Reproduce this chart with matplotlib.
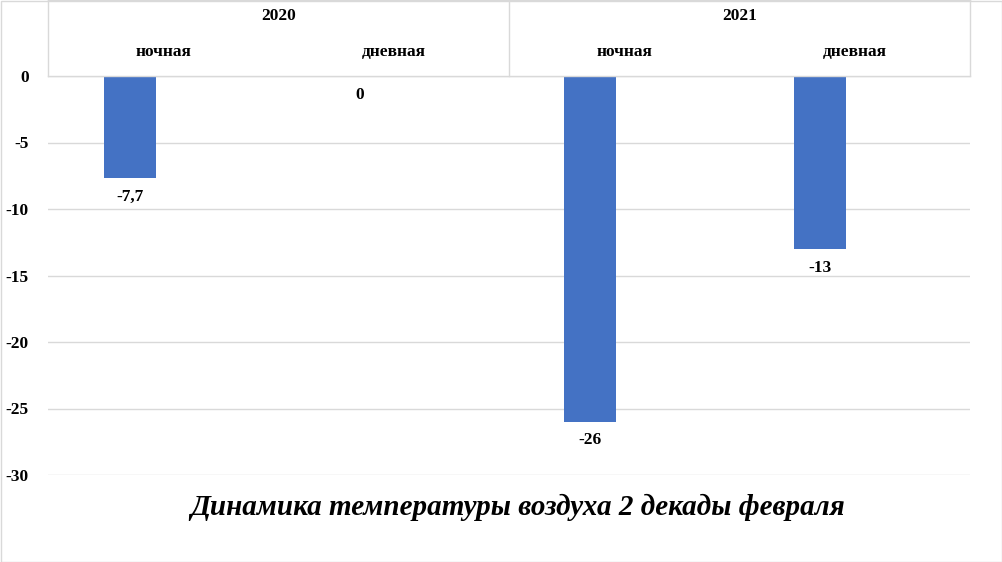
import matplotlib
matplotlib.use("Agg")
import matplotlib.pyplot as plt
from matplotlib.lines import Line2D
from matplotlib.patches import Rectangle

years = ["2020", "2021"]
periods = ["ночная", "дневная", "ночная", "дневная"]
values = [-7.7, 0, -26, -13]
labels = ["-7,7", "0", "-26", "-13"]
title = "Динамика температуры воздуха 2 декады февраля"

plt.rcParams['font.family'] = ['Liberation Serif', 'DejaVu Serif']
W, H = 1002, 562
fig = plt.figure(figsize=(W/100, H/100), dpi=100)
L, R, T, B = 48, 970, 76, 475
ax = fig.add_axes([L/W, 1-B/H, (R-L)/W, (B-T)/H])
x = list(range(len(values)))
ax.bar(x, values, width=0.225, color="#4472C4", zorder=3)
left = -(130-L)/230
ax.set_xlim(left, left + (R-L)/230)
ax.set_ylim(-30, 0)
ax.set_yticks(range(-30, 1, 5))
ax.set_yticklabels([str(v) for v in range(-30, 1, 5)], fontsize=12.5, fontweight='bold')
ax.tick_params(axis='y', length=0, pad=14)
ax.set_xticks([])
ax.grid(axis='y', color="#D9D9D9", lw=1, zorder=0)
for s in ax.spines.values():
    s.set_visible(False)
for xi, v, lab in zip(x, values, labels):
    ax.text(xi, v - 0.8, lab, ha='center', va='top', fontsize=12.5, fontweight='bold')

gc = "#D9D9D9"
def fl(x0, y0, x1, y1):
    fig.add_artist(Line2D([x0/W, x1/W], [1-y0/H, 1-y1/H], color=gc, lw=1))
fl(L, 0, R, 0)
fl(L, T, R, T)
for xx in (L, (L+R)/2, R):
    fl(xx, 0, xx, T)
cw = (R-L)/4
for i, p in enumerate(periods):
    fig.text((L+cw*(i+0.5))/W, 1-52/H, p, ha='center', va='center', fontsize=12.5, fontweight='bold')
for j, yv in enumerate(years):
    fig.text((L+cw*(2*j+1))/W, 1-16/H, yv, ha='center', va='center', fontsize=12.5, fontweight='bold')
fig.text(518/W, 1-507/H, title, ha='center', va='center', fontsize=21, fontweight='bold', style='italic')
fig.add_artist(Rectangle((0.5/W, 0.5/H), (W-1)/W, (H-1)/H, fill=False, ec=gc, lw=1, transform=fig.transFigure))
fig.savefig("out.png", dpi=100)
